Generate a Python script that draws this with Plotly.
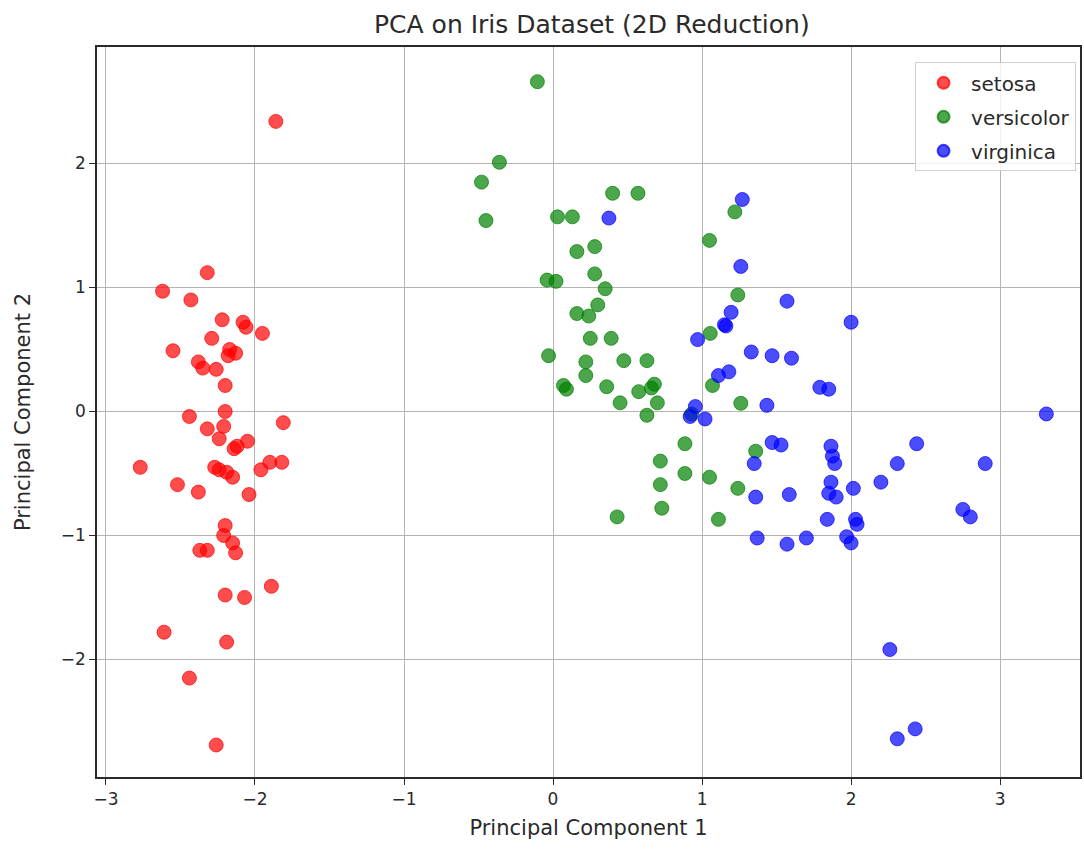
import plotly.graph_objects as go

# Iris dataset projected onto the first two principal components
setosa_pc1 = [-1.86, -2.32, -2.62, -2.43, -2.22, -2.08, -2.06, -1.95, -2.29, -2.55,
              -2.17, -2.13, -2.18, -2.38, -2.35, -2.26, -2.20, -2.44, -2.20, -1.81,
              -2.32, -2.21, -2.24, -2.14, -2.12, -2.05, -2.77, -2.27, -2.24, -2.19,
              -2.15, -1.96, -1.90, -1.82, -2.52, -2.38, -2.04, -2.20, -2.21, -2.37,
              -2.32, -2.15, -2.13, -1.89, -2.20, -2.07, -2.61, -2.19, -2.44, -2.26]
setosa_pc2 = [2.34, 1.12, 0.97, 0.90, 0.74, 0.72, 0.68, 0.63, 0.59, 0.49,
              0.50, 0.47, 0.45, 0.40, 0.35, 0.34, 0.21, -0.04, 0.00, -0.09,
              -0.14, -0.12, -0.22, -0.30, -0.28, -0.24, -0.45, -0.45, -0.47, -0.49,
              -0.53, -0.47, -0.41, -0.41, -0.59, -0.65, -0.67, -0.92, -1.00, -1.12,
              -1.12, -1.06, -1.14, -1.41, -1.48, -1.50, -1.78, -1.86, -2.15, -2.69]

versicolor_pc1 = [-0.105, -0.36, -0.48, -0.45, 0.40, 0.57, 0.03, 0.13, 0.16, 0.28,
                  0.28, -0.04, 0.02, 0.35, 0.30, 0.16, 0.24, 0.25, 0.39, -0.03,
                  0.22, 0.22, 0.475, 0.63, 0.07, 0.09, 0.36, 0.45, 0.575, 0.68,
                  0.70, 0.63, 0.72, 0.72, 0.73, 0.43, 1.22, 1.05, 1.24, 1.055,
                  1.07, 1.26, 0.885, 1.36, 0.885, 1.05, 1.24, 1.11, 0.66, 0.93]
versicolor_pc2 = [2.66, 2.01, 1.85, 1.54, 1.76, 1.76, 1.57, 1.57, 1.29, 1.33,
                  1.11, 1.06, 1.05, 0.99, 0.86, 0.79, 0.77, 0.59, 0.59, 0.45,
                  0.40, 0.29, 0.41, 0.41, 0.21, 0.18, 0.20, 0.07, 0.16, 0.22,
                  0.07, -0.03, -0.40, -0.59, -0.78, -0.85, 1.61, 1.38, 0.94, 0.63,
                  0.21, 0.066, -0.26, -0.32, -0.50, -0.53, -0.62, -0.87, 0.19, -0.02]

virginica_pc1 = [0.375, 1.27, 1.26, 1.57, 1.195, 1.15, 0.97, 2.00, 1.33, 1.47,
                 1.60, 1.11, 1.18, 1.79, 1.85, 1.435, 0.955, 0.92, 1.02, 1.47,
                 1.53, 1.35, 1.865, 1.875, 1.89, 1.865, 1.85, 1.90, 2.015, 1.36,
                 1.585, 1.84, 2.03, 2.04, 1.37, 1.57, 1.70, 1.97, 2.00, 3.31,
                 2.44, 2.31, 2.90, 2.20, 2.75, 2.80, 2.26, 2.43, 2.31, 1.16]
virginica_pc2 = [1.56, 1.71, 1.17, 0.89, 0.80, 0.70, 0.58, 0.72, 0.48, 0.45,
                 0.43, 0.29, 0.32, 0.195, 0.18, 0.05, 0.04, -0.04, -0.06, -0.25,
                 -0.27, -0.42, -0.28, -0.36, -0.42, -0.57, -0.66, -0.69, -0.62, -0.69,
                 -0.67, -0.87, -0.87, -0.91, -1.02, -1.07, -1.02, -1.01, -1.06, -0.02,
                 -0.26, -0.42, -0.42, -0.57, -0.79, -0.85, -1.92, -2.56, -2.64, 0.69]

species = ["setosa", "versicolor", "virginica"]
pc1_by_species = [setosa_pc1, versicolor_pc1, virginica_pc1]
pc2_by_species = [setosa_pc2, versicolor_pc2, virginica_pc2]
colors = ["rgba(255,0,0,0.7)", "rgba(0,128,0,0.7)", "rgba(0,0,255,0.7)"]

fig = go.Figure()
for name, xs, ys, c in zip(species, pc1_by_species, pc2_by_species, colors):
    fig.add_trace(go.Scatter(
        x=xs, y=ys, mode="markers", name=name, legendgroup=name,
        marker=dict(size=14, color=c, line=dict(width=1, color=c)),
    ))

font_family = "DejaVu Sans"
text_color = "#2a2a2a"
axis_common = dict(
    showgrid=True, gridcolor="#b4b4b4", gridwidth=1.3,
    zeroline=False, showline=True, linecolor=text_color, linewidth=1.5,
    mirror=True, ticks="outside", ticklen=6, tickwidth=1.2, tickcolor=text_color,
    tickfont=dict(family=font_family, size=17, color=text_color),
)

fig.update_layout(
    width=1084, height=849,
    margin=dict(l=97, r=2, t=47, b=72),
    paper_bgcolor="white", plot_bgcolor="white",
    title=dict(text="PCA on Iris Dataset (2D Reduction)", x=0.546, xanchor="center",
               y=0.971, yanchor="middle",
               font=dict(family=font_family, size=25, color=text_color)),
    xaxis=dict(range=[-3.06, 3.536], tickvals=[-3, -2, -1, 0, 1, 2, 3],
               title=dict(text="Principal Component 1", standoff=12,
                          font=dict(family=font_family, size=21, color=text_color)),
               **axis_common),
    yaxis=dict(range=[-2.948, 2.94], tickvals=[-2, -1, 0, 1, 2],
               title=dict(text="Principal Component 2", standoff=24,
                          font=dict(family=font_family, size=21, color=text_color)),
               **axis_common),
    legend=dict(x=0.996, y=0.979, xanchor="right", yanchor="top",
                bgcolor="rgba(255,255,255,0.8)", bordercolor="#d0d0d0", borderwidth=1,
                font=dict(family=font_family, size=20, color=text_color),
                itemsizing="constant", itemwidth=45, tracegroupgap=5),
    showlegend=True,
)

fig.write_html("out.html")
